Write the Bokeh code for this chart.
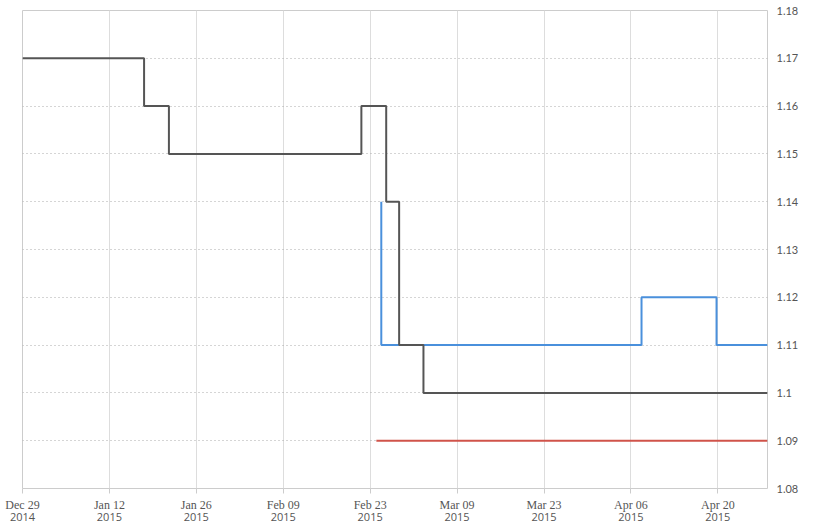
import pandas as pd
from bokeh.plotting import figure
from bokeh.models import (DatetimeAxis, FixedTicker, DatetimeTickFormatter, Range1d,
                          CustomJSTickFormatter)
from bokeh.embed import file_html
from bokeh.resources import INLINE

# ---- data ----
black_dates = ["2014-12-29 00:00", "2015-01-17 14:00", "2015-01-21 14:00", "2015-02-21 14:00",
               "2015-02-25 14:00", "2015-02-27 16:00", "2015-03-03 14:00", "2015-04-28 00:00"]
black_vals = [1.17, 1.16, 1.15, 1.16, 1.14, 1.11, 1.10, 1.10]

blue_dates = ["2015-02-24 19:00", "2015-02-24 19:00", "2015-04-07 17:00",
              "2015-04-19 19:00", "2015-04-28 00:00"]
blue_vals = [1.14, 1.11, 1.12, 1.11, 1.11]

red_dates = ["2015-02-24 00:00", "2015-04-28 00:00"]
red_vals = [1.09, 1.09]

x_tick_dates = ["2014-12-29", "2015-01-12", "2015-01-26", "2015-02-09", "2015-02-23",
                "2015-03-09", "2015-03-23", "2015-04-06", "2015-04-20"]
y_ticks = [1.08, 1.09, 1.10, 1.11, 1.12, 1.13, 1.14, 1.15, 1.16, 1.17, 1.18]
x_start, x_end = "2014-12-29", "2015-04-28"
y_start, y_end = 1.08, 1.18


def ms(d):
    return pd.Timestamp(d).value // 10**6


p = figure(x_axis_type="datetime", y_axis_location="right",
           frame_width=745, frame_height=478,
           x_range=Range1d(ms(x_start), ms(x_end)), y_range=Range1d(y_start, y_end),
           output_backend="svg", toolbar_location=None)
p.min_border = 0
p.min_border_left = 22
p.min_border_top = 10
p.background_fill_color = "white"
p.border_fill_color = "white"
p.outline_line_color = "#cccccc"
p.outline_line_width = 1

xt = FixedTicker(ticks=[ms(d) for d in x_tick_dates])

# date axis (first line)
xa = p.xaxis[0]
xa.ticker = xt
xa.formatter = DatetimeTickFormatter(days="%b %d", months="%b %d", years="%b %d",
                                     hours="%b %d", hourmin="%b %d")
xa.axis_line_color = None
xa.major_tick_line_color = "#cccccc"
xa.major_tick_out = 5
xa.major_tick_in = 0
xa.minor_tick_line_color = None
xa.major_label_text_font = "Liberation Serif"
xa.major_label_text_font_size = "12px"
xa.major_label_text_color = "#555555"
xa.major_label_standoff = 4

# year axis (second line)
ya2 = DatetimeAxis(ticker=xt,
                   formatter=DatetimeTickFormatter(days="%Y", months="%Y", years="%Y",
                                                   hours="%Y", hourmin="%Y"))
ya2.axis_line_color = None
ya2.major_tick_line_color = None
ya2.minor_tick_line_color = None
ya2.major_tick_out = 0
ya2.major_tick_in = 0
ya2.major_label_standoff = -2
ya2.major_label_text_font = "Open Sans"
ya2.major_label_text_font_size = "11px"
ya2.major_label_text_color = "#555555"
p.add_layout(ya2, "below")

# y axis
ya = p.yaxis[0]
ya.ticker = FixedTicker(ticks=y_ticks)
ya.formatter = CustomJSTickFormatter(code="return String(Math.round(tick*100)/100);")
ya.axis_line_color = None
ya.major_tick_line_color = None
ya.minor_tick_line_color = None
ya.major_tick_out = 0
ya.major_tick_in = 0
ya.major_label_standoff = 9
ya.major_label_text_font = "Lato"
ya.major_label_text_font_size = "11px"
ya.major_label_text_color = "#555555"

# grids
p.xgrid.ticker = xt
p.xgrid.grid_line_color = "#dddddd"
p.xgrid.grid_line_width = 1
p.ygrid.ticker = FixedTicker(ticks=y_ticks)
p.ygrid.grid_line_color = "#aaaaaa"
p.ygrid.grid_line_dash = "1 3"
p.ygrid.grid_line_width = 1

# lines
p.step(x=[ms(d) for d in red_dates], y=red_vals, mode="after",
       line_color="#d0534a", line_width=2)
p.step(x=[ms(d) for d in blue_dates], y=blue_vals, mode="after",
       line_color="#4a90dc", line_width=2)
p.step(x=[ms(d) for d in black_dates], y=black_vals, mode="after",
       line_color="#555555", line_width=2)

open("out.html", "w").write(file_html(p, INLINE))
